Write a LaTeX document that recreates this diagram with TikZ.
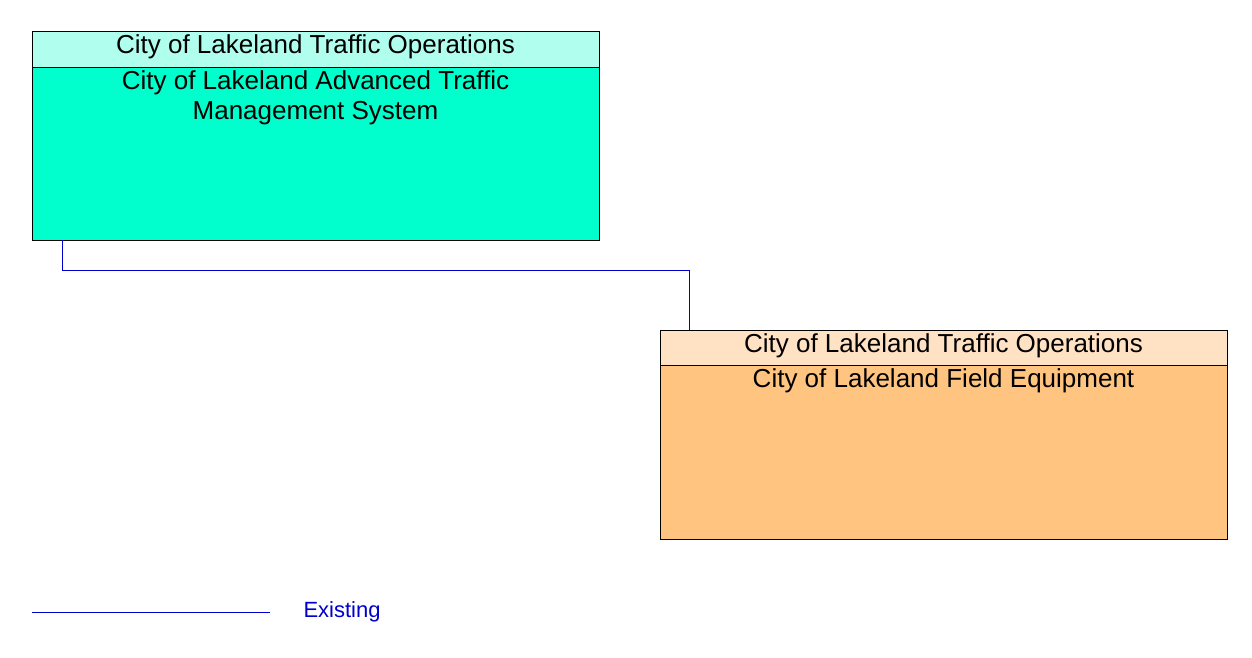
\documentclass[tikz,border=0pt]{standalone}
\usepackage{fontspec}
\setmainfont{Liberation Sans}
\begin{document}
\begin{tikzpicture}[x=1pt,y=-1pt,
  hdr/.style={draw=black,line width=0.6pt,anchor=north west,inner sep=0pt},
  lbl/.style={font=\fontsize{26}{30}\selectfont,align=center,anchor=north},
  conn/.style={draw=blue!80!black,line width=0.8pt}]
\useasboundingbox (0,0) rectangle (1252,658);
% box 1
\fill[fill={rgb,255:red,0;green,255;blue,204}] (32,31) rectangle (599,240);
\fill[fill={rgb,255:red,176;green,255;blue,238}] (32,31) rectangle (599,67);
\draw[line width=0.6pt] (32,31) rectangle (599,240);
\draw[line width=0.6pt] (32,67) -- (599,67);
\node[lbl] (h1) at (315.5,31) {City of Lakeland Traffic Operations};
\node[lbl] (b1) at (315.5,67) {City of Lakeland Advanced Traffic\\Management System};
% box 2
\fill[fill={rgb,255:red,255;green,196;blue,128}] (660,330) rectangle (1227,539);
\fill[fill={rgb,255:red,255;green,226;blue,196}] (660,330) rectangle (1227,365);
\draw[line width=0.6pt] (660,330) rectangle (1227,539);
\draw[line width=0.6pt] (660,365) -- (1227,365);
\node[lbl] (h2) at (943.5,330) {City of Lakeland Traffic Operations};
\node[lbl] (b2) at (943.5,365) {City of Lakeland Field Equipment};
% connector
\coordinate (s) at (62,240);
\coordinate (e) at (689,330);
\draw[conn] (s) -- (62,270) -- (689,270) -- (e);
% legend
\coordinate (l1) at (32,612);
\coordinate (l2) at (270,612);
\draw[conn] (l1) -- (l2);
\node[font=\fontsize{22}{26}\selectfont,text=blue!80!black,anchor=west] (leg) at (300,612) {Existing};
\end{tikzpicture}
\end{document}
